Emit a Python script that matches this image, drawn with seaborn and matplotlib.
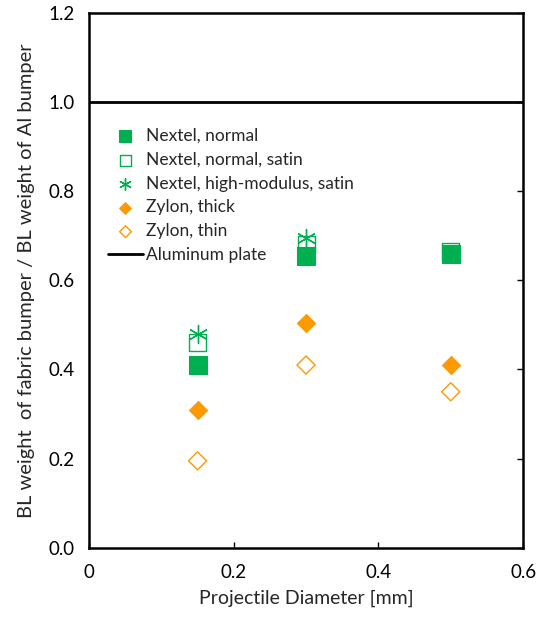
import numpy as np
import pandas as pd
import seaborn as sns
import matplotlib.pyplot as plt

# data
diam_3 = [0.15, 0.3, 0.5]
diam_2 = [0.15, 0.3]
nextel_normal = [0.41, 0.655, 0.66]
nextel_normal_satin = [0.46, 0.68, 0.665]
nextel_hm_satin = [0.48, 0.695]
zylon_thick = [0.31, 0.505, 0.41]
zylon_thin = [0.195, 0.41, 0.35]
al_plate = 1.0

GREEN = '#00B050'
ORANGE = '#FF9900'

sns.set_style('white')
plt.rcParams['font.family'] = ['Lato', 'DejaVu Sans']

fig = plt.figure(figsize=(5.46, 6.21), dpi=100)
ax = fig.add_axes([0.163, 0.118, 0.795, 0.861])

sns.scatterplot(x=diam_3, y=nextel_normal, marker='s', s=150, color=GREEN,
                edgecolor=GREEN, linewidth=0.8, label='Nextel, normal', ax=ax, zorder=3)
sns.scatterplot(x=diam_3, y=nextel_normal_satin, marker='s', s=150, facecolor='none',
                edgecolor=GREEN, linewidth=1.0, label='Nextel, normal, satin', ax=ax, zorder=4)
sns.scatterplot(x=diam_2, y=nextel_hm_satin, marker=(6, 2, 0), s=170, color=GREEN,
                linewidth=1.0, label='Nextel, high-modulus, satin', ax=ax, zorder=5)
sns.scatterplot(x=diam_3, y=zylon_thick, marker='D', s=85, color=ORANGE,
                edgecolor=ORANGE, linewidth=0.8, label='Zylon, thick', ax=ax, zorder=3)
sns.scatterplot(x=diam_3, y=zylon_thin, marker='D', s=85, facecolor='none',
                edgecolor=ORANGE, linewidth=1.0, label='Zylon, thin', ax=ax, zorder=3)
ax.axhline(al_plate, color='black', lw=2, label='Aluminum plate', zorder=2)

ax.set_xlim(0, 0.6)
ax.set_ylim(0, 1.2)
ax.set_xticks(np.arange(0, 0.61, 0.2))
ax.set_xticklabels(['0', '0.2', '0.4', '0.6'])
ax.set_yticks(np.arange(0, 1.21, 0.2))
ax.set_yticklabels([f'{v:.1f}' for v in np.arange(0, 1.21, 0.2)])
ax.tick_params(axis='both', labelsize=13.5, colors='black', direction='in',
               length=4, width=1, pad=10)
ax.tick_params(axis='y', left=False, right=True, labelright=False)
ax.tick_params(axis='x', bottom=True, pad=12)
for sp in ax.spines.values():
    sp.set_color('black')
    sp.set_linewidth(1.8)

ax.set_xlabel('Projectile Diameter [mm]', fontsize=14, labelpad=6)
ax.set_ylabel('BL weight  of fabric bumper / BL weight of Al bumper', fontsize=14.5, labelpad=10)

ax.legend(loc='upper left', bbox_to_anchor=(0.044, 0.785), frameon=False, fontsize=12.5,
          markerscale=0.65, handlelength=2.0, handletextpad=0.2, labelspacing=0.45,
          borderpad=0, borderaxespad=0)

fig.savefig('out.png', dpi=100)
